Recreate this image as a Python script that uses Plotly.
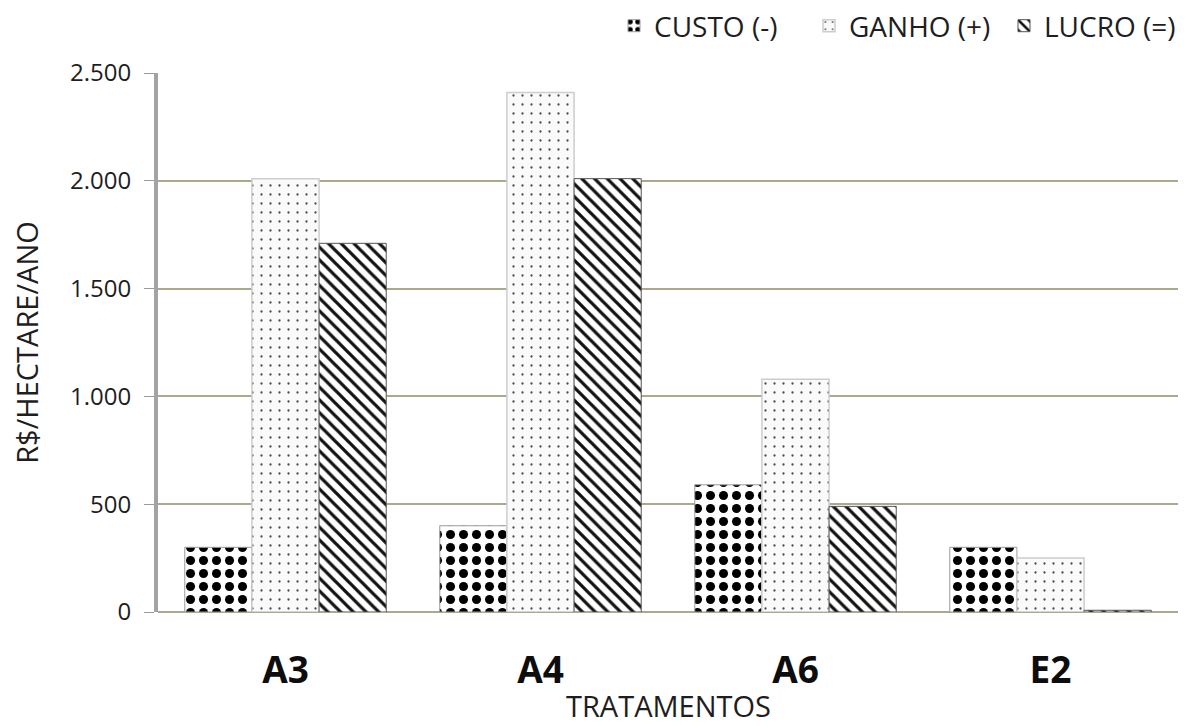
import plotly.graph_objects as go

# Tratamentos e valores em R$/hectare/ano
tratamentos = ["A3", "A4", "A6", "E2"]
custo = [300, 400, 590, 300]
ganho = [2010, 2410, 1080, 250]
lucro = [1710, 2010, 490, 8]

y_ticks = [0, 500, 1000, 1500, 2000, 2500]

fig = go.Figure()

fig.add_trace(go.Bar(
    name="CUSTO (-)", x=tratamentos, y=custo,
    marker=dict(color="white",
                line=dict(color="#9a9a9a", width=1),
                pattern=dict(shape=".", fgcolor="black", bgcolor="white",
                             fgopacity=1, size=13, solidity=0.38)),
))
fig.add_trace(go.Bar(
    name="GANHO (+)", x=tratamentos, y=ganho,
    marker=dict(color="white",
                line=dict(color="#cdcdcd", width=1.5),
                pattern=dict(shape=".", fgcolor="#4a4a4a", bgcolor="#fafafa",
                             fgopacity=1, size=9, solidity=0.05)),
))
fig.add_trace(go.Bar(
    name="LUCRO (=)", x=tratamentos, y=lucro,
    marker=dict(color="white",
                line=dict(color="#555555", width=1),
                pattern=dict(shape="\\", fgcolor="#111111", bgcolor="white",
                             fgopacity=1, size=9, solidity=0.36)),
))

font_family = "Open Sans, sans-serif"

fig.update_layout(
    width=1185, height=727,
    margin=dict(l=158, r=7, t=73, b=115, autoexpand=False),
    paper_bgcolor="white", plot_bgcolor="white",
    barmode="group", bargap=0.21, bargroupgap=0.0,
    separators=",.",
    font=dict(family=font_family, color="#1e1e1e"),
    showlegend=True,
    legend=dict(orientation="h", xref="container", yref="container",
                x=614 / 1185, xanchor="left", y=1 - 26 / 727, yanchor="middle",
                font=dict(size=28, color="#1e1e1e"), itemwidth=30,
                entrywidth=150, entrywidthmode="pixels",
                traceorder="normal", bgcolor="rgba(0,0,0,0)"),
    xaxis=dict(
        tickfont=dict(size=37, family=font_family, weight="bold", color="#0d0d0d"),
        ticklabelstandoff=33,
        showgrid=False, showline=False, ticks="",
    ),
    yaxis=dict(
        title=dict(text="R$/HECTARE/ANO", font=dict(size=29, color="#1e1e1e"), standoff=24),
        range=[0, 2500], tickvals=y_ticks, tickformat=",d",
        tickfont=dict(size=24, color="#1e1e1e"),
        ticklabelstandoff=8,
        showgrid=True, gridcolor="#aca88a", gridwidth=2,
        zeroline=True, zerolinecolor="#aca88a", zerolinewidth=2,
        showline=True, linecolor="#a3a3a3", linewidth=4,
        ticks="outside", ticklen=10, tickcolor="#9a9a9a", tickwidth=1,
    ),
    annotations=[dict(
        text="TRATAMENTOS", xref="paper", yref="paper",
        x=0.5, y=-115 / 539, xanchor="center", yanchor="bottom",
        showarrow=False, font=dict(size=29, color="#1e1e1e"),
    )],
)

fig.write_html("out.html")
